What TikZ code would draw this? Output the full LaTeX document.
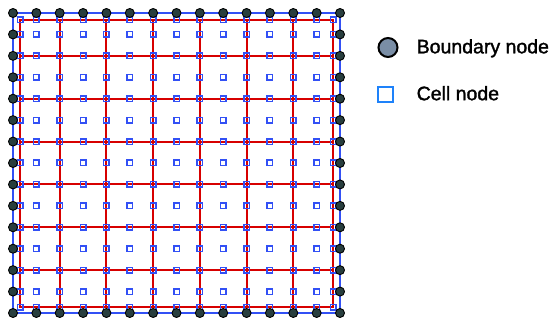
\documentclass[tikz,border=0pt]{standalone}
\usepackage{fontspec}
\setmainfont{Liberation Sans}
\definecolor{bl}{RGB}{50,80,245}
\definecolor{rd}{RGB}{215,0,0}
\definecolor{bnd}{RGB}{40,62,62}
\definecolor{lgc}{RGB}{122,142,166}
\definecolor{lgs}{RGB}{30,130,250}
\begin{document}
\begin{tikzpicture}[x=1pt,y=-1pt,
  bnode/.style={circle,draw=black,fill=bnd,line width=0.9pt,inner sep=0pt,minimum size=9pt},
  cnode/.style={rectangle,draw=bl,line width=1.5pt,inner sep=0pt,minimum size=5.5pt},
  bline/.style={draw=bl,line width=1.6pt},
  rline/.style={draw=rd,line width=1.9pt},
  lbl/.style={anchor=base west,inner sep=0pt,font=\fontsize{19.5}{22}\selectfont\addfontfeatures{FakeBold=1.6}}]
\useasboundingbox (0,0) rectangle (553,320);
% outer blue boundary
\draw[bline] (13,13) rectangle (340,313);
% red cell grid
\draw[rline] (20,20) rectangle (333,307);
\foreach \i in {2,4,...,12} {
  \draw[rline] ({13+23.357*\i},20) -- ({13+23.357*\i},307);
  \draw[rline] (20,{13+21.4286*\i}) -- (333,{13+21.4286*\i});
}
% cell nodes
\foreach \i in {0,...,14} {
  \foreach \j in {0,...,14} {
    \pgfmathsetmacro\cx{\i==0 ? 20 : (\i==14 ? 333 : 13+23.357*\i)}
    \pgfmathsetmacro\cy{\j==0 ? 20 : (\j==14 ? 307 : 13+21.4286*\j)}
    \node[cnode] (c-\i-\j) at (\cx,\cy) {};
  }
}
% boundary nodes
\foreach \i in {0,...,14} {
  \node[bnode] (bt-\i) at ({13+23.357*\i},13) {};
  \node[bnode] (bb-\i) at ({13+23.357*\i},313) {};
}
\foreach \j in {1,...,13} {
  \node[bnode] (bl-\j) at (13,{13+21.4286*\j}) {};
  \node[bnode] (br-\j) at (340,{13+21.4286*\j}) {};
}
% legend
\node[circle,draw=black,line width=2pt,fill=lgc,inner sep=0pt,minimum size=19pt] (lb) at (388,47.5) {};
\node[lbl] (lbt) at (416.5,53.3) {Boundary node};
\node[rectangle,draw=lgs,line width=2.4pt,inner sep=0pt,minimum size=15pt] (lc) at (385.5,94.5) {};
\node[lbl] (lct) at (416.5,100.2) {Cell node};
\end{tikzpicture}
\end{document}
